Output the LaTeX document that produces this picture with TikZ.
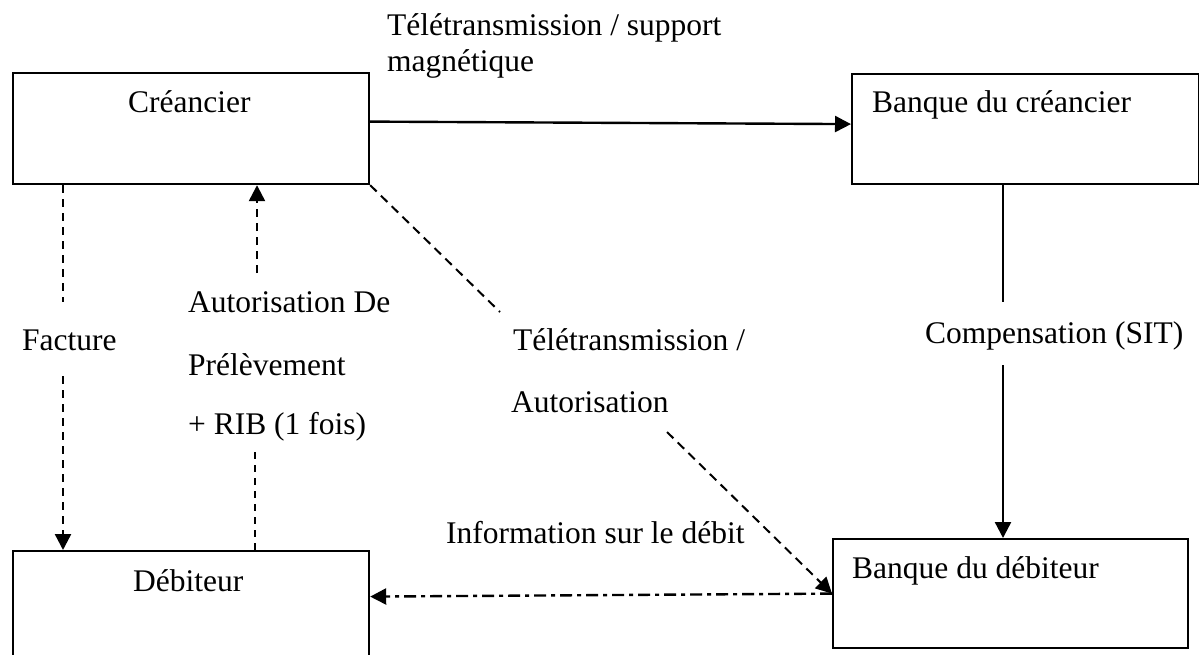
\documentclass[tikz,border=0pt]{standalone}
\usepackage{fontspec}
\setmainfont{Liberation Serif}
\usetikzlibrary{arrows.meta}
\begin{document}
\begin{tikzpicture}[x=1pt,y=-1pt,
  box/.style={draw,line width=2.2pt,rectangle,inner sep=0pt,anchor=north west},
  lbl/.style={anchor=base west,inner sep=0pt,font=\fontsize{31.5}{38}\selectfont},
  tip/.style={-{Triangle[length=16pt,width=16pt]}},
  sline/.style={line width=2.4pt},
  dline/.style={line width=2.4pt,dash pattern=on 8pt off 6pt},
  diagline/.style={line width=2pt,dash pattern=on 9pt off 6pt},
  fineline/.style={line width=1.5pt,dash pattern=on 7pt off 6pt},
  dotdash/.style={line width=2.4pt,dash pattern=on 12pt off 5pt on 4pt off 5pt}]
\useasboundingbox[fill=white] (0,0) rectangle (1199,655);

% boxes
\node[box,minimum width=356pt,minimum height=111pt] (cre) at (12,72) {};
\node[box,minimum width=347pt,minimum height=110pt] (bc) at (851,73) {};
\node[box,minimum width=355pt,minimum height=109pt] (bd) at (832,538) {};
\node[box,minimum width=356pt,minimum height=150pt] (deb) at (12,550) {};

% box titles
\node[lbl] (tcre) at (128,113) {Créancier};
\node[lbl] (tbc) at (872,113) {Banque du créancier};
\node[lbl] (tbd) at (852,578) {Banque du débiteur};
\node[lbl] (tdeb) at (133,591) {Débiteur};

% connector labels
\node[lbl] (l1a) at (387,36) {Télétransmission / support};
\node[lbl] (l1b) at (387,72) {magnétique};
\node[lbl] (lfac) at (22,350) {Facture};
\node[lbl] (laut1) at (188,312) {Autorisation De};
\node[lbl] (laut2) at (188,375) {Prélèvement};
\node[lbl] (laut3) at (188,434) {+ RIB (1 fois)};
\node[lbl] (ltel1) at (513,350) {Télétransmission /};
\node[lbl] (ltel2) at (511,412) {Autorisation};
\node[lbl] (lcomp) at (925,343) {Compensation (SIT)};
\node[lbl] (linfo) at (446,543) {Information sur le débit};

% break points around the labels
\coordinate (f1) at (63,302);
\coordinate (f2) at (63,376);
\coordinate (a1) at (257,273);
\coordinate (a2) at (255,452);
\coordinate (d1) at (500,312);
\coordinate (d2) at (667,432);
\coordinate (c1) at (1003,302);
\coordinate (c2) at (1003,365);

% Créancier -> Banque du créancier
\draw[sline,tip] ([yshift=7pt]cre.east) -- ([yshift=5pt]bc.west);

% Facture
\draw[dline] (cre.south -| f1) -- (f1);
\draw[dline,tip] (f2) -- (deb.north -| f2);

% Autorisation de prélèvement
\draw[dline,tip] (a1) -- (cre.south -| a1);
\draw[fineline] (a2) -- (deb.north -| a2);

% Télétransmission / Autorisation
\draw[diagline] (cre.south east) -- (d1);
\draw[diagline,tip] (d2) -- (bd.west);

% Compensation
\draw[sline] (bc.south -| c1) -- (c1);
\draw[sline,tip] (c2) -- (bd.north -| c2);

% Information sur le débit
\draw[dotdash,tip] (bd.west) -- ([yshift=-3pt]bd.west -| deb.east);
\end{tikzpicture}
\end{document}
